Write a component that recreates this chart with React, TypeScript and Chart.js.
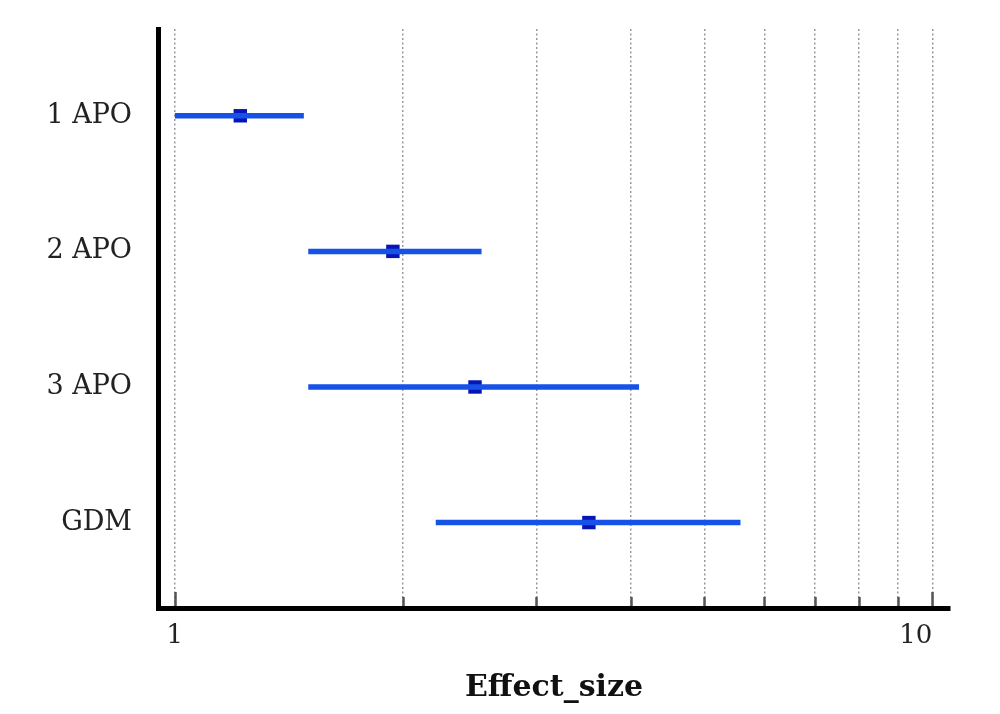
import React, { useEffect, useRef } from "react";
import { Chart, registerables } from "chart.js";

Chart.register(...registerables);

const CATEGORIES = ["1 APO", "2 APO", "3 APO", "GDM"];
const ESTIMATE = [1.22, 1.94, 2.49, 3.52];
const LOWER = [1.0, 1.5, 1.5, 2.21];
const UPPER = [1.48, 2.54, 4.1, 5.58];
const X_TICKS = [1, 2, 3, 4, 5, 6, 7, 8, 9, 10];
const X_LABELED = [1, 10];
const X_TITLE = "Effect_size";

const FONT = "'DejaVu Serif', serif";

const tickPlugin = {
  id: "inwardTicks",
  afterDraw(chart: any) {
    const ctx = chart.ctx;
    const xs = chart.scales.x;
    const area = chart.chartArea;
    ctx.save();
    ctx.strokeStyle = "#555";
    ctx.lineWidth = 2.5;
    X_TICKS.forEach((v) => {
      const px = Math.round(xs.getPixelForValue(v)) + 0.5;
      const len = X_LABELED.includes(v) ? 14 : 9;
      ctx.beginPath();
      ctx.moveTo(px, area.bottom - 2);
      ctx.lineTo(px, area.bottom - 2 - len);
      ctx.stroke();
    });
    // x tick labels: first centred, last right-aligned at its tick
    ctx.fillStyle = "#222";
    ctx.font = "26px " + FONT;
    ctx.textBaseline = "middle";
    X_LABELED.forEach((v, i) => {
      const px = xs.getPixelForValue(v);
      ctx.textAlign = i === X_LABELED.length - 1 ? "right" : "center";
      ctx.fillText(String(v), px, area.bottom + 28);
    });
    ctx.restore();
  },
};

export default function App() {
  const ref = useRef<HTMLCanvasElement | null>(null);
  useEffect(() => {
    document.body.style.margin = "0";
    const datasets: any[] = CATEGORIES.map((c, i) => ({
      type: "line",
      label: c + " CI",
      data: [
        { x: LOWER[i], y: i + 1 },
        { x: UPPER[i], y: i + 1 },
      ],
      borderColor: "rgb(22,82,232)",
      borderWidth: 5.5,
      pointRadius: 0,
      borderCapStyle: "butt",
    }));
    datasets.push({
      type: "scatter",
      label: "Estimate",
      data: CATEGORIES.map((c, i) => ({ x: ESTIMATE[i], y: i + 1 })),
      pointStyle: "rect",
      pointRadius: 9.5,
      backgroundColor: "rgb(5,22,180)",
      borderColor: "rgb(5,22,180)",
      borderWidth: 0,
    });
    const chart = new Chart(ref.current as HTMLCanvasElement, {
      type: "scatter",
      data: { datasets },
      plugins: [tickPlugin],
      options: {
        animation: false,
        responsive: false,
        devicePixelRatio: 1,
        layout: { padding: { left: 0, top: 29, right: 50, bottom: 0 } },
        plugins: { legend: { display: false }, tooltip: { enabled: false } },
        scales: {
          x: {
            type: "logarithmic",
            min: 0.95,
            max: 10.55,
            afterBuildTicks: (s: any) => {
              s.ticks = X_TICKS.map((v) => ({ value: v, major: X_LABELED.includes(v) }));
            },
            afterFit: (s: any) => {
              s.height = 106;
              s.paddingLeft = 0;
              s.paddingRight = 0;
            },
            ticks: {
              autoSkip: false,
              maxRotation: 0,
              padding: 14,
              color: "rgba(0,0,0,0)",
              font: { family: FONT, size: 26 },
              callback: (v: any) => (X_LABELED.includes(Number(v)) ? String(v) : ""),
            },
            grid: {
              drawTicks: false,
              color: "#999",
              lineWidth: 1.5,
            },
            border: { color: "#000", width: 5, dash: [2, 2.5] },
            title: {
              display: true,
              text: X_TITLE,
              color: "#111",
              font: { family: FONT, size: 30, weight: "bold" },
              padding: { top: 2, bottom: 8 },
            },
          },
          y: {
            type: "linear",
            reverse: true,
            min: 0.36,
            max: 4.63,
            afterBuildTicks: (s: any) => {
              s.ticks = CATEGORIES.map((c, i) => ({ value: i + 1 }));
            },
            afterFit: (s: any) => {
              s.width = 158;
              s.paddingTop = 0;
              s.paddingBottom = 0;
            },
            ticks: {
              padding: 26,
              color: "#222",
              font: { family: FONT, size: 27 },
              callback: (v: any) => CATEGORIES[Number(v) - 1] ?? "",
            },
            grid: { display: false, drawTicks: false },
            border: { color: "#000", width: 5 },
          },
        },
      },
    });
    return () => chart.destroy();
  }, []);
  return (
    <div style={{ position: "absolute", left: 0, top: 0, width: 1000, height: 714, background: "#fff" }}>
      <canvas ref={ref} width={1000} height={714} style={{ width: 1000, height: 714 }} />
    </div>
  );
}
